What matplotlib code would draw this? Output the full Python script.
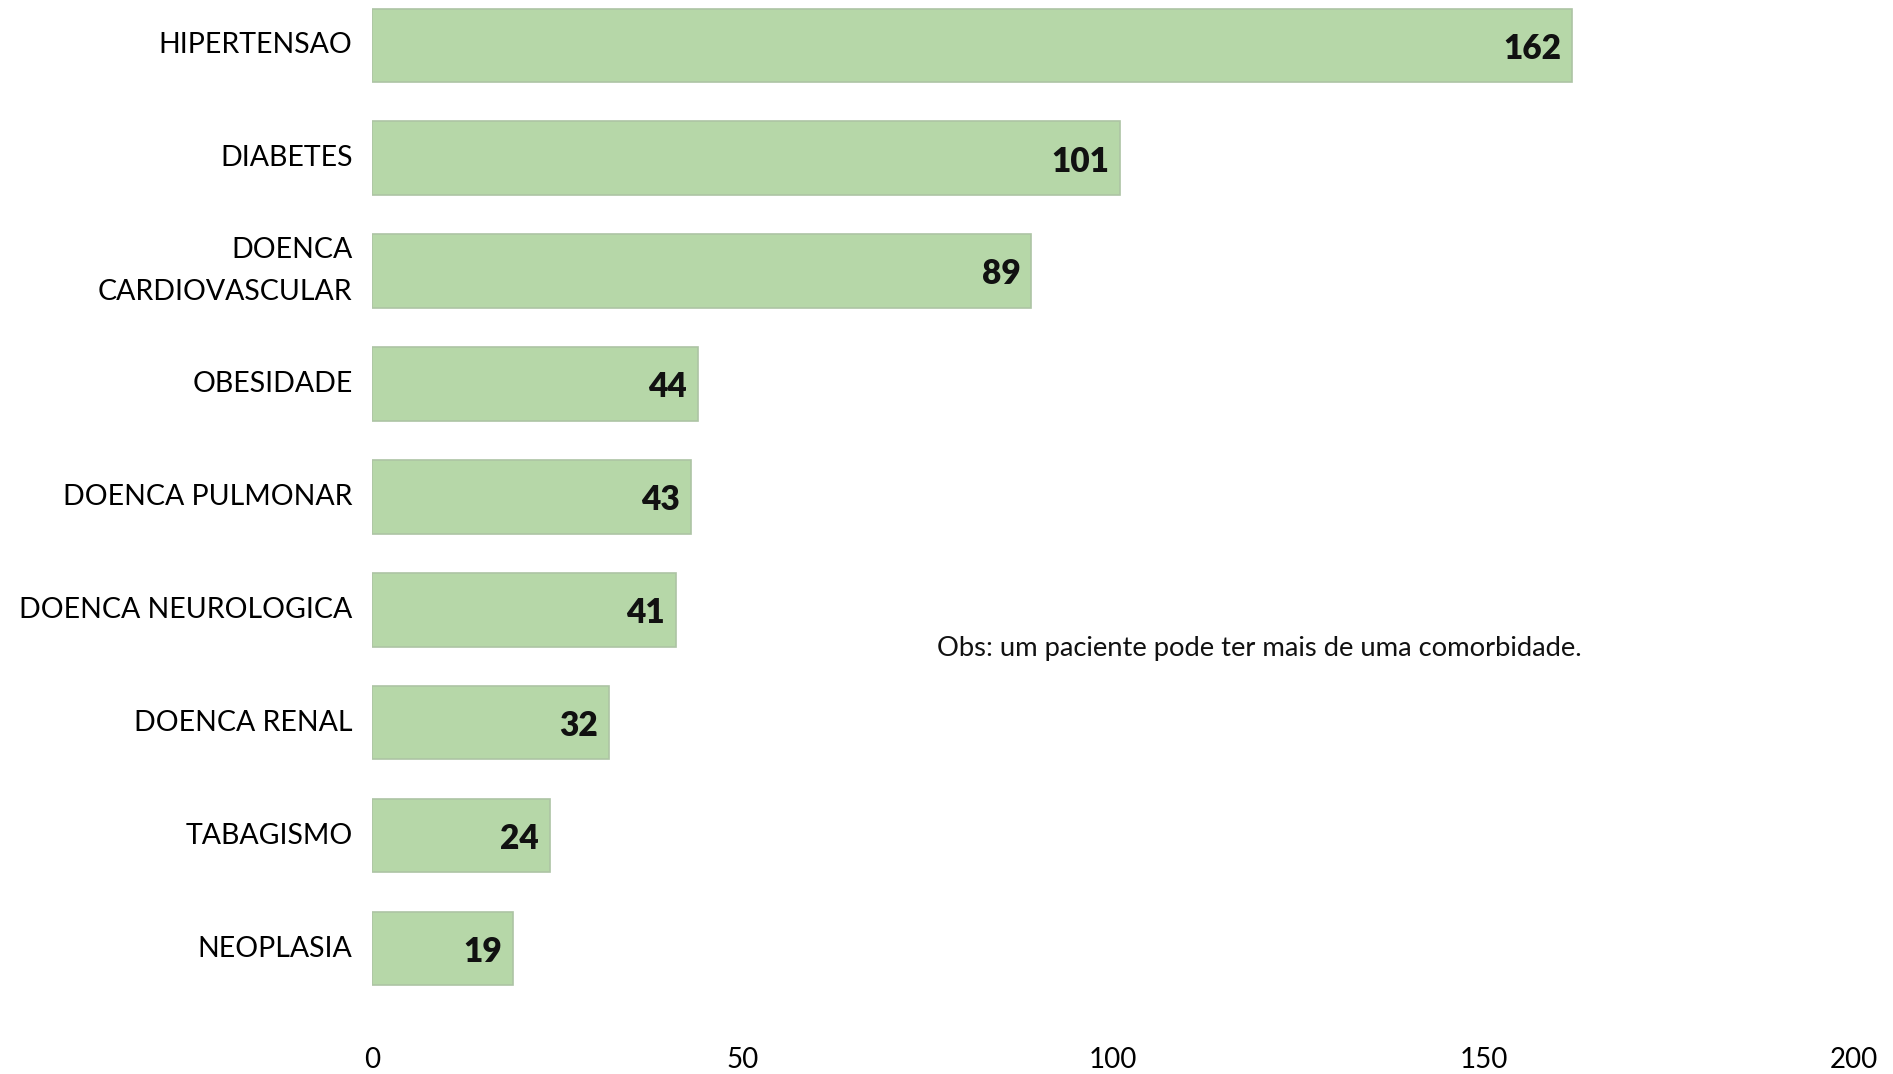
import matplotlib
matplotlib.use("Agg")
import matplotlib.pyplot as plt

categories = ["HIPERTENSAO", "DIABETES", "DOENCA\nCARDIOVASCULAR", "OBESIDADE",
              "DOENCA PULMONAR", "DOENCA NEUROLOGICA", "DOENCA RENAL", "TABAGISMO", "NEOPLASIA"]
values = [162, 101, 89, 44, 43, 41, 32, 24, 19]
xticks = [0, 50, 100, 150, 200]
note = "Obs: um paciente pode ter mais de uma comorbidade."

plt.rcParams['font.family'] = ['Lato', 'DejaVu Sans']

fig = plt.figure(figsize=(18.93, 10.74), dpi=100)
ax = fig.add_axes([372/1893, 1 - 1040/1074, (1854-372)/1893, 1040/1074])

pos = list(range(len(categories)))
ax.barh(pos, values, height=0.65, color='#b6d7a8', edgecolor='#adc4a4', linewidth=1.2)
for p, v in zip(pos, values):
    ax.text(v - 1.5, p + 0.03, str(v), ha='right', va='center', fontsize=24,
            fontweight='heavy', color='#111111')

ax.set_xlim(0, 200)
ax.set_ylim(8.81, -0.401)
ax.set_yticks(pos)
ax.set_yticklabels(categories, fontsize=20.5, linespacing=1.75, va='center')
ax.set_xticks(xticks)
ax.set_xticklabels([str(t) for t in xticks], fontsize=20)
ax.tick_params(axis='y', length=0, pad=14)
ax.tick_params(axis='x', length=0, pad=5)
for s in ax.spines.values():
    s.set_visible(False)

ax.text(76.2, 5.34, note, ha='left', va='center', fontsize=19.7, color='#111111')

fig.savefig("out.png", dpi=100)
